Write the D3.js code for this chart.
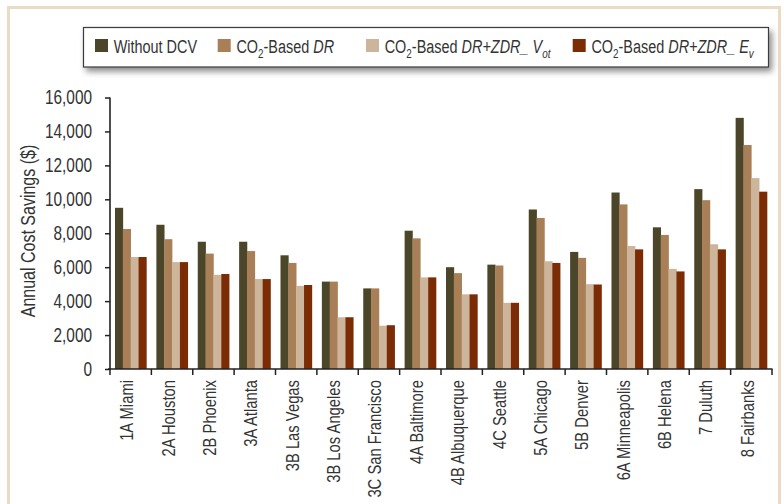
<!DOCTYPE html>
<html>
<head>
<meta charset="utf-8">
<script src="https://cdn.jsdelivr.net/npm/d3@7"></script>
<style>
  html, body { margin: 0; padding: 0; background: #fff; }
  svg { display: block; }
  text { font-family: "Liberation Sans", Arial, sans-serif; fill: #333; }
</style>
</head>
<body>
<svg id="chart" width="784" height="504"></svg>
<script>
// ---- data ----
const categories = ["1A Miami","2A Houston","2B Phoenix","3A Atlanta","3B Las Vegas","3B Los Angeles","3C San Francisco","4A Baltimore","4B Albuquerque","4C Seattle","5A Chicago","5B Denver","6A Minneapolis","6B Helena","7 Duluth","8 Fairbanks"];
const seriesKeys = ["noDCV","co2DR","co2Vot","co2Ev"];
const withoutDCV = [9500,8500,7500,7500,6700,5150,4750,8150,6000,6150,9400,6900,10400,8350,10600,14800];
const co2DR      = [8250,7650,6800,6950,6250,5150,4750,7700,5650,6100,8900,6550,9700,7900,9950,13200];
const co2DRVot   = [6600,6300,5550,5300,4900,3050,2550,5400,4400,3900,6350,5000,7250,5900,7350,11250];
const co2DREv    = [6600,6300,5600,5300,4950,3050,2580,5400,4400,3900,6250,4980,7050,5750,7050,10450];
const yTicks = [0,2000,4000,6000,8000,10000,12000,14000,16000];
const colors = ["#4b4529","#a97f57","#cdb59c","#7b2c05"];

const seriesValues = [withoutDCV, co2DR, co2DRVot, co2DREv];

// horizontal condensing factor to imitate a condensed typeface
const K = 0.77;

const svg = d3.select("#chart");

// outer frame
svg.append("rect")
  .attr("x", 8.5).attr("y", 7.5).attr("width", 771).attr("height", 520)
  .attr("fill", "none").attr("stroke", "#e8dcc4").attr("stroke-width", 3);

// shadow filter
const defs = svg.append("defs");
const f = defs.append("filter").attr("id", "shadow")
  .attr("x", "-5%").attr("y", "-30%").attr("width", "115%").attr("height", "190%");
f.append("feDropShadow").attr("dx", 3).attr("dy", 4).attr("stdDeviation", 3)
  .attr("flood-color", "#000").attr("flood-opacity", 0.45);

// scales
const x0 = d3.scaleBand().domain(categories).range([110, 772]).padding(0);
const x1 = d3.scaleBand().domain(seriesKeys).range([5, x0.bandwidth() - 5]).padding(0);
const y = d3.scaleLinear().domain([0, 16000]).range([369, 97.5]);

// bars
const groups = svg.append("g").selectAll("g")
  .data(categories).join("g")
  .attr("transform", d => `translate(${x0(d)},0)`);

groups.selectAll("rect")
  .data((d, i) => seriesKeys.map((k, j) => ({ key: k, j, value: seriesValues[j][i] })))
  .join("rect")
  .attr("x", d => x1(d.key))
  .attr("width", x1.bandwidth() + 0.3)
  .attr("y", d => y(d.value))
  .attr("height", d => y(0) - y(d.value))
  .attr("fill", d => colors[d.j]);

// y axis
const yAxis = svg.append("g")
  .attr("transform", "translate(110,0)")
  .call(d3.axisLeft(y).tickValues(yTicks).tickSize(5).tickPadding(13)
        .tickFormat(d3.format(",")));
yAxis.select(".domain").attr("stroke", "#222").attr("stroke-width", 1.6).attr("d", "M0,97.5V369");
yAxis.selectAll(".tick line").attr("stroke", "#222").attr("stroke-width", 1.5);
yAxis.selectAll(".tick text")
  .attr("font-size", 20).attr("fill", "#333")
  .attr("font-family", '"Liberation Sans", Arial, sans-serif')
  .attr("x", -18 / K)
  .attr("transform", `scale(${K},1)`);

// x axis with ticks at category boundaries
const xAxisG = svg.append("g").attr("transform", "translate(0,369)");
xAxisG.append("line").attr("x1", 108).attr("x2", 772.5).attr("y1", 0).attr("y2", 0)
  .attr("stroke", "#222").attr("stroke-width", 1.6);
const boundaries = categories.map(c => x0(c)).concat([x0.range()[1]]);
xAxisG.selectAll("line.tk").data(boundaries).join("line").attr("class", "tk")
  .attr("x1", d => d).attr("x2", d => d).attr("y1", 0).attr("y2", 6)
  .attr("stroke", "#222").attr("stroke-width", 1.5);

// x labels
svg.append("g").selectAll("text")
  .data(categories).join("text")
  .attr("transform", d => `translate(${x0(d) + x0.bandwidth() / 2 - 4},380) rotate(-90) scale(0.8,1)`)
  .attr("dy", "0.35em")
  .attr("text-anchor", "end")
  .attr("font-size", 18.5)
  .text(d => d);

// y title
svg.append("text")
  .attr("transform", "translate(28,231) rotate(-90) scale(0.8,1)")
  .attr("dy", "0.35em")
  .attr("text-anchor", "middle")
  .attr("font-size", 20)
  .text("Annual Cost Savings ($)");

// legend
const leg = svg.append("g");
leg.append("rect").attr("x", 83.5).attr("y", 27.5).attr("width", 685).attr("height", 39.5)
  .attr("fill", "#fff").attr("stroke", "#3a3a3a").attr("stroke-width", 1.2)
  .attr("filter", "url(#shadow)");

const legendItems = [
  { x: 95,    parts: [["Without DCV", "n"]] },
  { x: 217.7, parts: [["CO", "n"], ["2", "sub"], ["-Based ", "n"], ["DR", "i"]] },
  { x: 366,   parts: [["CO", "n"], ["2", "sub"], ["-Based ", "n"], ["DR+ZDR_ V", "i"], ["ot", "isub"]] },
  { x: 572.7, parts: [["CO", "n"], ["2", "sub"], ["-Based ", "n"], ["DR+ZDR_ E", "i"], ["v", "isub"]] }
];
legendItems.forEach((it, i) => {
  leg.append("rect").attr("x", it.x).attr("y", 39).attr("width", 13).attr("height", 13)
    .attr("fill", colors[i]);
  const t = leg.append("text")
    .attr("transform", `translate(${it.x + 18.7},52.5) scale(0.76,1)`)
    .attr("font-size", 19);
  let sub = false;
  it.parts.forEach(p => {
    const ts = t.append("tspan").text(p[0]);
    if (p[1] === "i" || p[1] === "isub") ts.attr("font-style", "italic");
    if (p[1] === "sub" || p[1] === "isub") {
      ts.attr("font-size", 13).attr("dy", 5);
      sub = true;
    } else if (sub) {
      ts.attr("dy", -5);
      sub = false;
    }
  });
});
</script>
</body>
</html>
